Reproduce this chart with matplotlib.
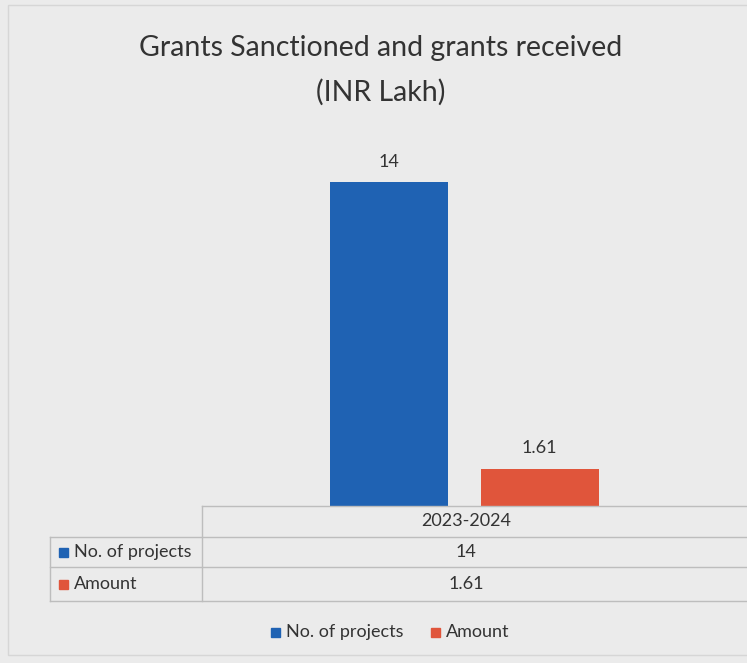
import matplotlib.pyplot as plt
from matplotlib.patches import Rectangle
from matplotlib.lines import Line2D

# data
years = ["2023-2024"]
series = ["No. of projects", "Amount"]
values = [14, 1.61]
labels = ["14", "1.61"]
colors = ["#1f62b3", "#e0553b"]

W, H = 747, 663
def fx(x):
    return x / W
def fy(y):
    return 1 - y / H

plt.rcParams['font.family'] = ['Lato', 'DejaVu Sans']
txt = "#333333"
grid = "#bdbdbd"

fig = plt.figure(figsize=(7.47, 6.63), dpi=100)
fig.patch.set_facecolor("#ebebeb")

# faint outer frame of the chart
fig.add_artist(Rectangle((fx(8), fy(655)), fx(760) - fx(8), fy(5) - fy(655),
                         transform=fig.transFigure, fill=False, ec="#d6d6d6", lw=1))

fig.text(fx(381), fy(48), "Grants Sanctioned and grants received", ha="center", va="center",
         fontsize=20.5, color=txt)
fig.text(fx(381), fy(92), "(INR Lakh)", ha="center", va="center", fontsize=20.5, color=txt)

# bar plot area
ax = fig.add_axes([fx(202), fy(506), fx(745) - fx(202), fy(136) - fy(506)])
ax.set_facecolor("none")
offsets = [-0.156, 0.122]
for i in range(len(series)):
    b = ax.bar(offsets[i], values[i], width=0.218, color=colors[i])
    ax.text(offsets[i], values[i] + 0.55, labels[i], ha="center", va="bottom",
            fontsize=13, color=txt)
ax.set_xlim(-0.5, 0.5)
ax.set_ylim(0, 16)
ax.axis("off")

# data table under the bars
rows_y = [506, 537, 567, 601]
x_left, x_mid, x_right = 50, 202, 760
def hline(y, x0, x1):
    fig.add_artist(Line2D([fx(x0), fx(x1)], [fy(y), fy(y)], transform=fig.transFigure,
                          color=grid, lw=1))
def vline(x, y0, y1):
    fig.add_artist(Line2D([fx(x), fx(x)], [fy(y0), fy(y1)], transform=fig.transFigure,
                          color=grid, lw=1))
hline(rows_y[0], x_mid, x_right)
for y in rows_y[1:]:
    hline(y, x_left, x_right)
vline(x_mid, rows_y[0], rows_y[3])
vline(x_left, rows_y[1], rows_y[3])

cx = 466
fig.text(fx(cx), fy((rows_y[0] + rows_y[1]) / 2), years[0], ha="center", va="center",
         fontsize=13, color=txt)
for i in range(len(series)):
    yc = (rows_y[i + 1] + rows_y[i + 2]) / 2
    fig.add_artist(Rectangle((fx(59), fy(yc + 4.5)), 9 / W, 9 / H, transform=fig.transFigure,
                             color=colors[i]))
    fig.text(fx(74), fy(yc), series[i], ha="left", va="center", fontsize=13, color=txt)
    fig.text(fx(cx), fy(yc), labels[i], ha="center", va="center", fontsize=13, color=txt)

# legend
leg_x = [271, 431]
for i in range(len(series)):
    fig.add_artist(Rectangle((fx(leg_x[i]), fy(636.5)), 9 / W, 9 / H, transform=fig.transFigure,
                             color=colors[i]))
    fig.text(fx(leg_x[i] + 15), fy(632), series[i], ha="left", va="center", fontsize=13, color=txt)

fig.savefig("out.png", dpi=100, facecolor=fig.get_facecolor())
